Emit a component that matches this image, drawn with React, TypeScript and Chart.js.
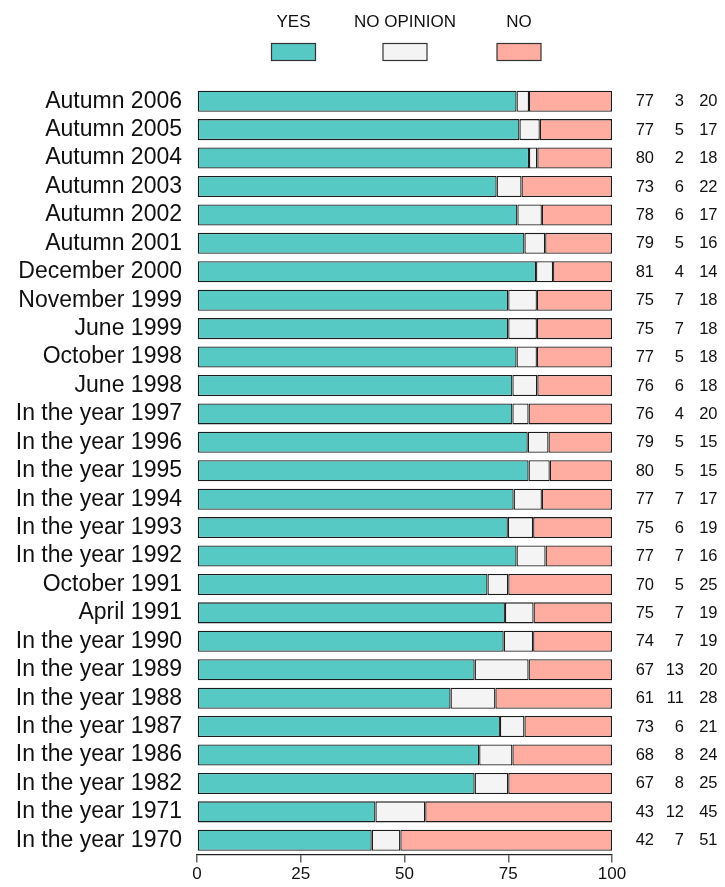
import React, { useEffect, useRef } from "react";
import { Chart, registerables } from "chart.js";

Chart.register(...registerables);

const categories = [
  "Autumn 2006", "Autumn 2005", "Autumn 2004", "Autumn 2003", "Autumn 2002", "Autumn 2001",
  "December 2000", "November 1999", "June 1999", "October 1998", "June 1998",
  "In the year 1997", "In the year 1996", "In the year 1995", "In the year 1994",
  "In the year 1993", "In the year 1992", "October 1991", "April 1991", "In the year 1990",
  "In the year 1989", "In the year 1988", "In the year 1987", "In the year 1986",
  "In the year 1982", "In the year 1971", "In the year 1970",
];

// Bar lengths (percent)
const yesBar = [77, 77.7, 80, 72.2, 77.2, 78.9, 81.7, 75, 75, 77, 76, 76, 79.7, 79.9, 76.3, 74.9, 77, 70, 74.2, 73.9, 66.9, 61.1, 73, 68, 66.9, 43, 42.1];
const noOpinionBar = [3, 4.9, 2, 6, 5.9, 5, 4.1, 6.9, 6.9, 4.9, 6, 3.9, 5, 5.1, 6.8, 6.1, 7, 5, 6.9, 7.1, 13, 10.8, 5.9, 8, 8.1, 12, 6.9];
const noBar = [20, 17.4, 18, 21.8, 16.9, 16.1, 14.2, 18.1, 18.1, 18.1, 18, 20.1, 15.3, 15, 16.9, 19, 16, 25, 18.9, 19, 20.1, 28.1, 21.1, 24, 25, 45, 51];

// Printed numbers on the right
const yesLabels = [77, 77, 80, 73, 78, 79, 81, 75, 75, 77, 76, 76, 79, 80, 77, 75, 77, 70, 75, 74, 67, 61, 73, 68, 67, 43, 42];
const noOpinionLabels = [3, 5, 2, 6, 6, 5, 4, 7, 7, 5, 6, 4, 5, 5, 7, 6, 7, 5, 7, 7, 13, 11, 6, 8, 8, 12, 7];
const noLabels = [20, 17, 18, 22, 17, 16, 14, 18, 18, 18, 18, 20, 15, 15, 17, 19, 16, 25, 19, 19, 20, 28, 21, 24, 25, 45, 51];

const seriesNames = ["YES", "NO OPINION", "NO"];
const seriesColors = ["#56C9C5", "#F4F4F4", "#FFADA0"];
const xTicks = [0, 25, 50, 75, 100];

const FONT = "'Liberation Sans', Arial, Helvetica, sans-serif";

const sidePlugin = {
  id: "sideDecor",
  afterDraw(chart: any) {
    const ctx = chart.ctx;
    const yScale = chart.scales.y;
    ctx.save();
    // Legend
    const legendX = [293.5, 405, 519];
    ctx.font = `17px ${FONT}`;
    ctx.fillStyle = "#111";
    ctx.textAlign = "center";
    ctx.textBaseline = "middle";
    seriesNames.forEach((n, i) => {
      ctx.fillText(n, legendX[i], 22);
      ctx.fillStyle = seriesColors[i];
      ctx.fillRect(legendX[i] - 22, 43.5, 44, 17);
      ctx.strokeStyle = "#333";
      ctx.lineWidth = 1.2;
      ctx.strokeRect(legendX[i] - 22, 43.5, 44, 17);
      ctx.fillStyle = "#111";
    });
    // Right-hand numbers
    ctx.font = `16.5px ${FONT}`;
    ctx.textAlign = "right";
    const cols = [
      { arr: yesLabels, x: 654 },
      { arr: noOpinionLabels, x: 684 },
      { arr: noLabels, x: 717.5 },
    ];
    categories.forEach((_, i) => {
      const y = yScale.getPixelForValue(i);
      cols.forEach((c) => ctx.fillText(String(c.arr[i]), c.x, y + 0.5));
    });
    ctx.restore();
  },
};

export default function App() {
  const ref = useRef<HTMLCanvasElement>(null);
  useEffect(() => {
    if (!ref.current) return;
    const mk = (label: string, data: number[], color: string) => ({
      label,
      data,
      backgroundColor: color,
      borderColor: "#1c1c1c",
      borderWidth: 1.3,
      borderSkipped: false,
      categoryPercentage: 1,
      barPercentage: 0.74,
    });
    const chart = new Chart(ref.current, {
      type: "bar",
      data: {
        labels: categories,
        datasets: [
          mk(seriesNames[0], yesBar, seriesColors[0]),
          mk(seriesNames[1], noOpinionBar, seriesColors[1]),
          mk(seriesNames[2], noBar, seriesColors[2]),
        ],
      },
      options: {
        indexAxis: "y",
        responsive: false,
        animation: false,
        layout: { padding: { top: 87, right: 113, left: 0, bottom: 0 } },
        plugins: { legend: { display: false }, tooltip: { enabled: false } },
        scales: {
          x: {
            stacked: true,
            min: 0,
            max: 100,
            afterBuildTicks: (axis: any) => {
              axis.ticks = xTicks.map((v) => ({ value: v }));
            },
            afterFit: (axis: any) => {
              axis.height = 32.5;
            },
            grid: {
              drawOnChartArea: false,
              drawTicks: true,
              tickLength: 8,
              color: "#666",
              lineWidth: 1.5,
            },
            border: { display: true, color: "#222", width: 1.3 },
            ticks: {
              padding: 2,
              color: "#111",
              font: { family: FONT, size: 17 },
              maxRotation: 0,
            },
          },
          y: {
            stacked: true,
            afterFit: (axis: any) => {
              axis.width = 197;
            },
            grid: { display: false, drawTicks: false },
            border: { display: false },
            ticks: {
              padding: 15,
              color: "#111",
              font: { family: FONT, size: 23 },
              autoSkip: false,
            },
          },
        },
      },
      plugins: [sidePlugin],
    } as any);
    return () => chart.destroy();
  }, []);
  return (
    <div style={{ position: "fixed", left: 0, top: 0, width: 725, height: 887, background: "#fff" }}>
      <canvas ref={ref} width={725} height={887} style={{ width: 725, height: 887, display: "block" }} />
    </div>
  );
}
